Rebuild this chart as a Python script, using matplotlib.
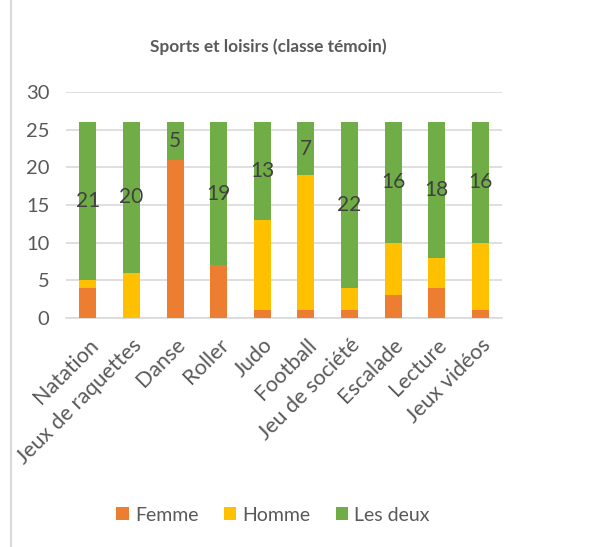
import matplotlib.pyplot as plt
from matplotlib.lines import Line2D

categories = ["Natation", "Jeux de raquettes", "Danse", "Roller", "Judo",
              "Football", "Jeu de société", "Escalade", "Lecture", "Jeux vidéos"]
femme = [4, 0, 21, 7, 1, 1, 1, 3, 4, 1]
homme = [1, 6, 0, 0, 12, 18, 3, 7, 4, 9]
les_deux = [21, 20, 5, 19, 13, 7, 22, 16, 18, 16]

plt.rcParams['font.family'] = ['Lato', 'DejaVu Sans']
grey = '#595959'

fig = plt.figure(figsize=(5.96, 5.47), dpi=100)
ax = fig.add_axes([0.1107, 0.4186, 0.732, 0.4132])

x = range(len(categories))
w = 0.39
ax.bar(x, femme, w, color='#ED7D31', label='Femme', zorder=3)
ax.bar(x, homme, w, bottom=femme, color='#FFC000', label='Homme', zorder=3)
base = [f + h for f, h in zip(femme, homme)]
ax.bar(x, les_deux, w, bottom=base, color='#70AD47', label='Les deux', zorder=3)

# étiquettes de données (série "Les deux")
for i in x:
    ax.text(i, base[i] + les_deux[i] / 2, str(les_deux[i]), ha='center', va='center',
            fontsize=15, color='#404040', zorder=4)

ax.set_xlim(-0.5, len(categories) - 0.5)
ax.set_ylim(0, 30)
ax.set_yticks(range(0, 31, 5))
ax.yaxis.grid(True, color='#D9D9D9', linewidth=1.2, zorder=0)
for s in ['top', 'right', 'left']:
    ax.spines[s].set_visible(False)
ax.spines['bottom'].set_color('#D9D9D9')
ax.spines['bottom'].set_linewidth(1.2)
ax.tick_params(axis='y', length=0, colors=grey, labelsize=14.5, pad=12)
ax.tick_params(axis='x', length=0, colors=grey, labelsize=15.5, pad=12)
ax.set_xticks(list(x))
ax.set_xticklabels(categories, rotation=45, ha='right', rotation_mode='anchor')

fig.text(0.45, 0.914, 'Sports et loisirs (classe témoin)', ha='center', va='center',
         fontsize=12.4, fontweight='bold', color=grey)

fig.legend(loc='center', bbox_to_anchor=(0.458, 0.058), ncol=3, frameon=False,
           fontsize=14, labelcolor=grey, handlelength=0.65, handleheight=0.65,
           columnspacing=1.3, handletextpad=0.3)

# bordure gauche de la zone de graphique
fig.add_artist(Line2D([0.0185, 0.0185], [0, 1], color='#D9D9D9', linewidth=1.5))

fig.savefig('out.png', dpi=100)
